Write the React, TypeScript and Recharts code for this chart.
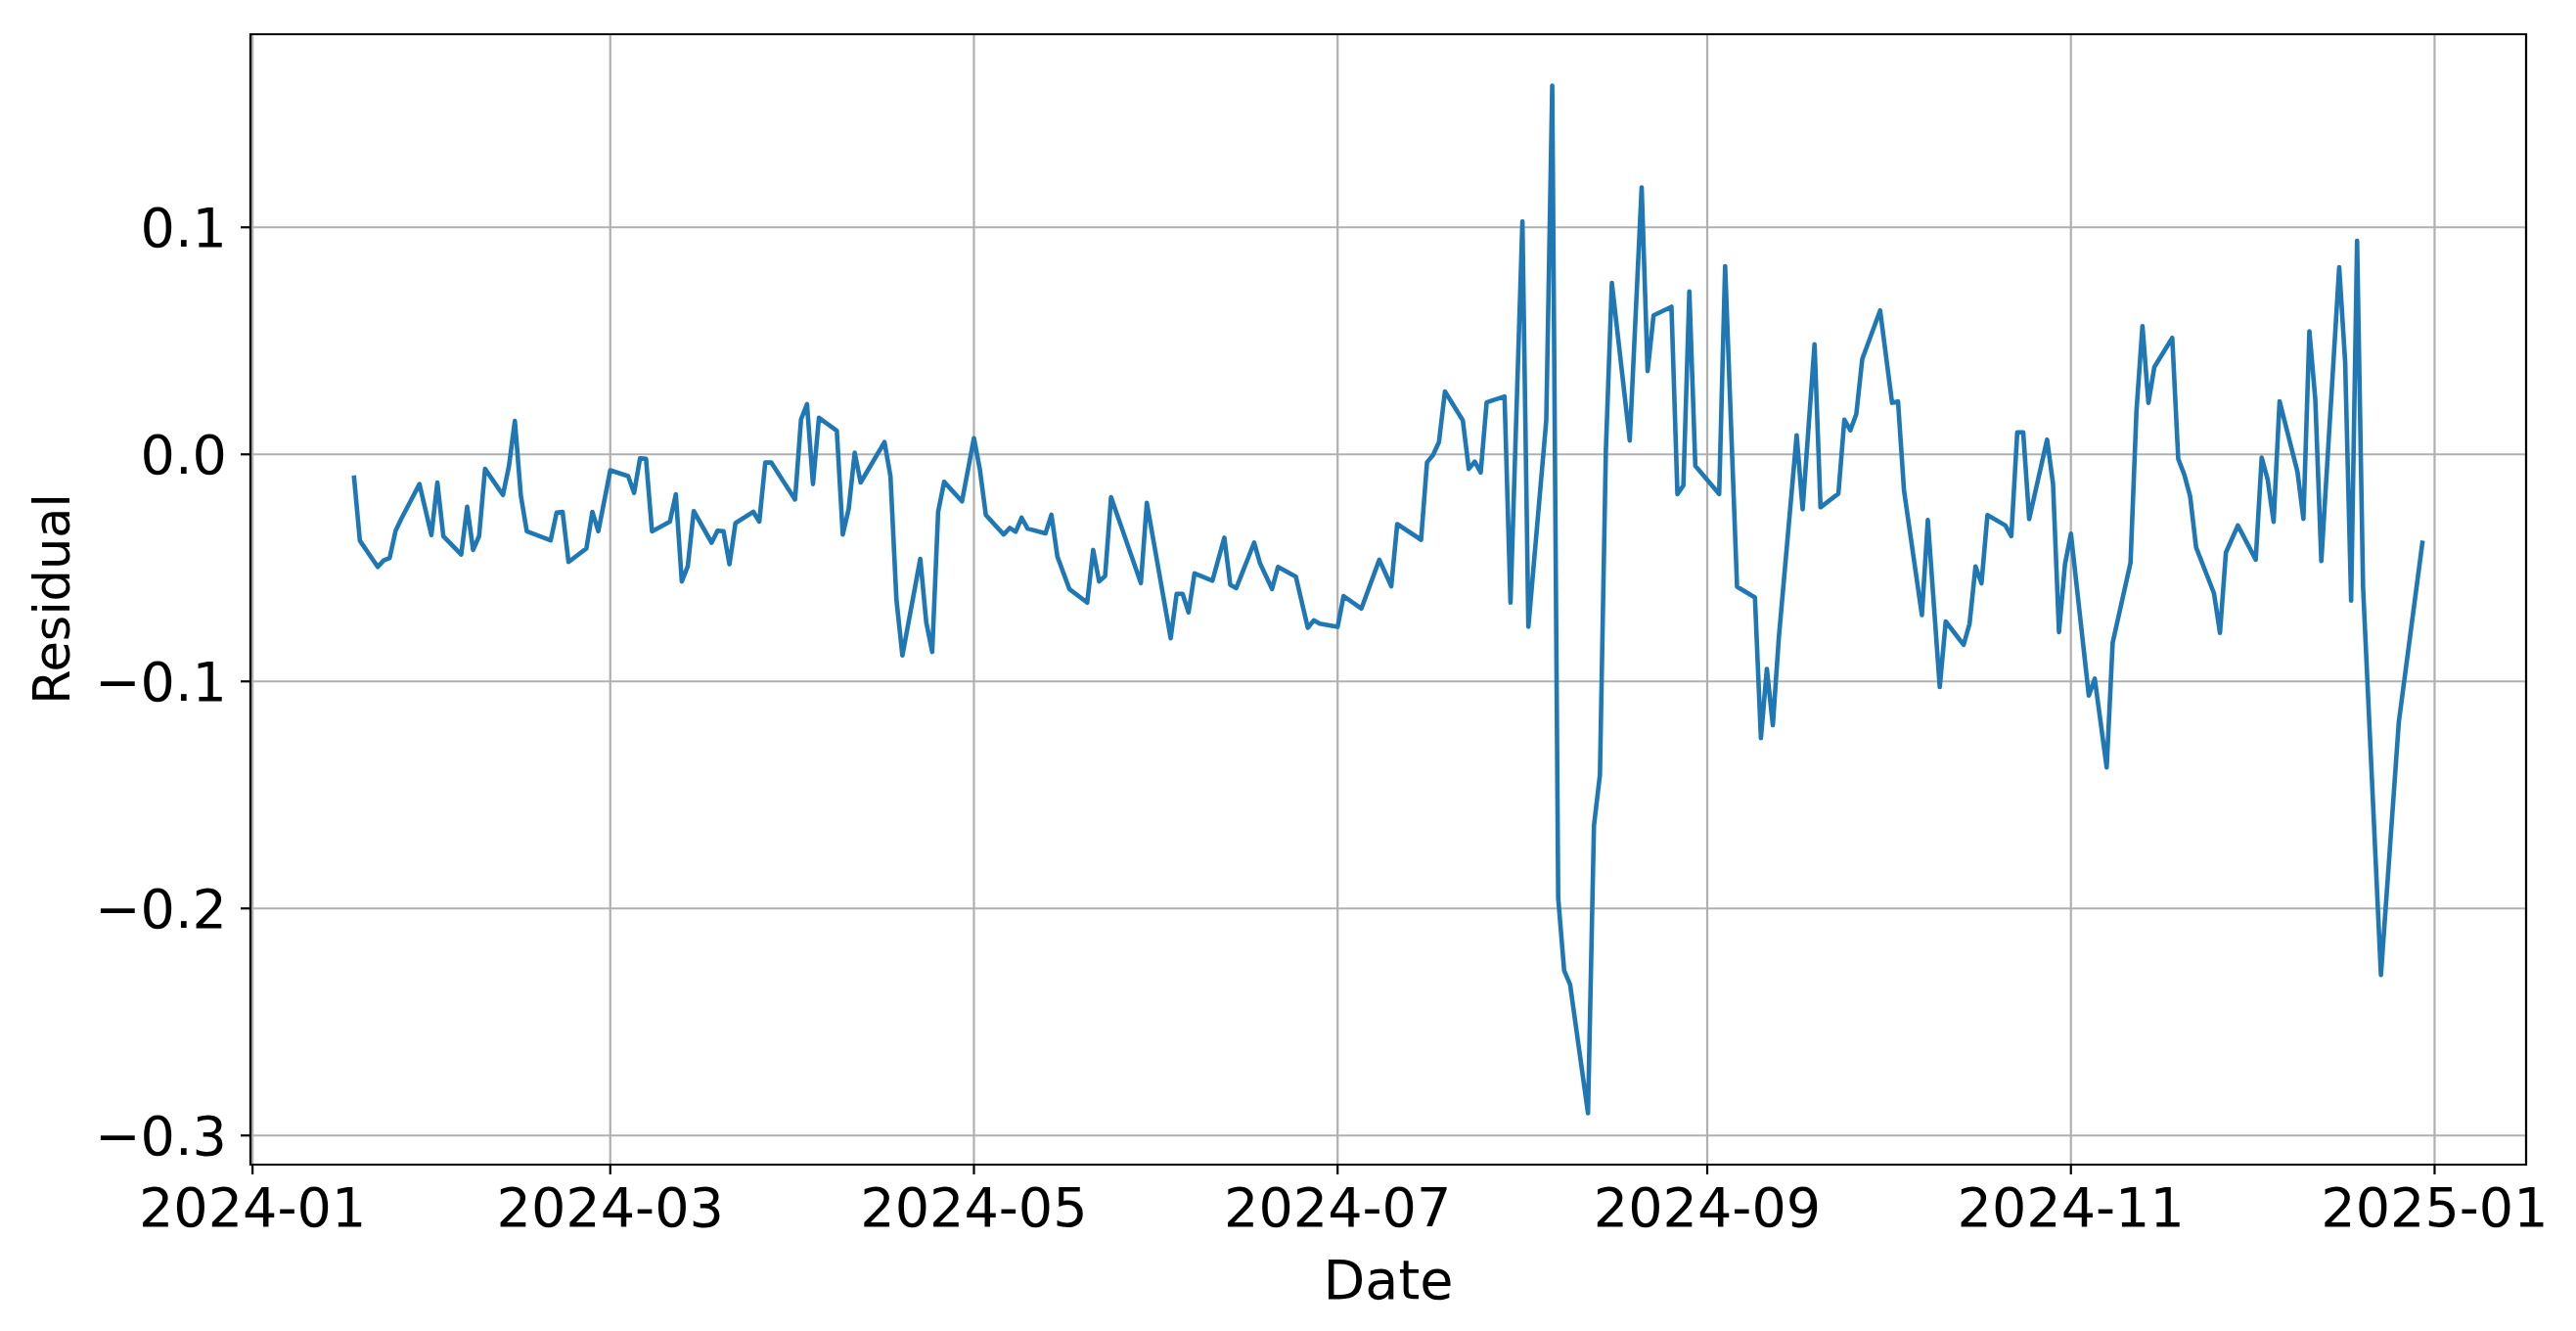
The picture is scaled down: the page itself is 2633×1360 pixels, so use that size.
import React from "react";
import {
  LineChart,
  Line,
  XAxis,
  YAxis,
  CartesianGrid,
  ReferenceArea,
  Label,
} from "recharts";

const dates: string[] = [
  "2024-01-18","2024-01-19","2024-01-22","2024-01-23","2024-01-24","2024-01-25","2024-01-26","2024-01-29","2024-01-31",
  "2024-02-01","2024-02-02","2024-02-05","2024-02-06","2024-02-07","2024-02-08","2024-02-09","2024-02-12","2024-02-13","2024-02-14","2024-02-15","2024-02-16","2024-02-20","2024-02-21","2024-02-22","2024-02-23","2024-02-26","2024-02-27","2024-02-28",
  "2024-03-01","2024-03-04","2024-03-05","2024-03-06","2024-03-07","2024-03-08","2024-03-11","2024-03-12","2024-03-13","2024-03-14","2024-03-15",
  "2024-03-18","2024-03-19","2024-03-20","2024-03-21","2024-03-22","2024-03-25","2024-03-26","2024-03-27","2024-03-28",
  "2024-04-01","2024-04-02","2024-04-03","2024-04-04","2024-04-05","2024-04-08","2024-04-09","2024-04-10","2024-04-11","2024-04-12","2024-04-16","2024-04-17","2024-04-18","2024-04-19","2024-04-22","2024-04-23","2024-04-24","2024-04-25","2024-04-26","2024-04-29",
  "2024-05-01","2024-05-02","2024-05-03","2024-05-06","2024-05-07","2024-05-08","2024-05-09","2024-05-10","2024-05-13","2024-05-14",
  "2024-05-15","2024-05-17","2024-05-20","2024-05-21","2024-05-22","2024-05-23","2024-05-24","2024-05-29","2024-05-30",
  "2024-06-03","2024-06-04","2024-06-05","2024-06-06","2024-06-07","2024-06-10","2024-06-12","2024-06-13","2024-06-14","2024-06-17","2024-06-18","2024-06-20","2024-06-21","2024-06-24","2024-06-26","2024-06-27","2024-06-28",
  "2024-07-01","2024-07-02","2024-07-05","2024-07-08","2024-07-10","2024-07-11",
  "2024-07-15","2024-07-16","2024-07-17","2024-07-18","2024-07-19","2024-07-22","2024-07-23","2024-07-24","2024-07-25","2024-07-26","2024-07-29","2024-07-30",
  "2024-08-01","2024-08-02","2024-08-05","2024-08-06","2024-08-07","2024-08-08","2024-08-09","2024-08-12","2024-08-13","2024-08-14","2024-08-15","2024-08-16","2024-08-19","2024-08-21","2024-08-22","2024-08-23","2024-08-26","2024-08-27","2024-08-28","2024-08-29","2024-08-30",
  "2024-09-03","2024-09-04","2024-09-06","2024-09-09","2024-09-10",
  "2024-09-11","2024-09-12","2024-09-13","2024-09-16","2024-09-17","2024-09-19","2024-09-20","2024-09-23","2024-09-24","2024-09-25","2024-09-26","2024-09-27","2024-09-30",
  "2024-10-02","2024-10-03","2024-10-04","2024-10-07","2024-10-08","2024-10-10","2024-10-11","2024-10-14","2024-10-15","2024-10-16","2024-10-17","2024-10-18","2024-10-21","2024-10-22","2024-10-23","2024-10-24","2024-10-25","2024-10-28","2024-10-29","2024-10-30","2024-10-31",
  "2024-11-01","2024-11-04","2024-11-05","2024-11-07","2024-11-08",
  "2024-11-11","2024-11-12","2024-11-13","2024-11-14","2024-11-15","2024-11-18","2024-11-19","2024-11-20","2024-11-21","2024-11-22","2024-11-25","2024-11-26","2024-11-27","2024-11-29",
  "2024-12-02","2024-12-03","2024-12-04","2024-12-05","2024-12-06","2024-12-09","2024-12-10","2024-12-11","2024-12-12","2024-12-13","2024-12-16","2024-12-17","2024-12-18","2024-12-19","2024-12-20","2024-12-23","2024-12-26","2024-12-30",
];

const residuals: number[] = [
  -0.0093,-0.038,-0.0496,-0.0467,-0.0456,-0.0336,-0.0281,-0.0131,-0.0356,
  -0.0124,-0.036,-0.0441,-0.0231,-0.0421,-0.036,-0.0064,-0.0179,-0.0053,0.0147,-0.0181,-0.0339,-0.0379,-0.0257,-0.0253,-0.0474,-0.0414,-0.0253,-0.0339,
  -0.007,-0.0096,-0.017,-0.0017,-0.002,-0.0339,-0.0296,-0.0176,-0.056,-0.0493,-0.025,
  -0.0389,-0.0336,-0.0339,-0.0484,-0.0303,-0.0253,-0.0296,-0.0036,-0.0036,
  -0.0199,0.0154,0.0221,-0.0131,0.0161,0.0104,-0.0353,-0.0239,0.0007,-0.0124,0.0054,-0.0096,-0.0639,-0.0886,-0.046,-0.0739,-0.087,-0.0253,-0.0121,-0.0207,
  0.0071,-0.0067,-0.0267,-0.0353,-0.0324,-0.0341,-0.0279,-0.0327,-0.0348,-0.0266,
  -0.045,-0.0593,-0.0653,-0.0421,-0.056,-0.0536,-0.0189,-0.0567,-0.0214,
  -0.081,-0.0614,-0.0614,-0.0696,-0.0524,-0.0557,-0.0367,-0.0574,-0.0589,-0.0389,-0.0481,-0.0593,-0.0496,-0.0539,-0.0764,-0.0731,-0.0746,
  -0.076,-0.0624,-0.0679,-0.0464,-0.0581,-0.0307,
  -0.0376,-0.0035,-0.0003,0.0054,0.0277,0.015,-0.0064,-0.0032,-0.008,0.0229,0.0255,-0.0653,
  0.1026,-0.0759,0.015,0.1624,-0.1954,-0.2273,-0.2336,-0.2902,-0.1635,-0.1412,0.0022,0.0755,0.0061,0.1176,0.0367,0.0612,0.065,-0.0175,-0.0137,0.0717,-0.0051,
  -0.0175,0.0829,-0.0583,-0.063,-0.125,
  -0.0945,-0.1193,-0.081,0.0084,-0.0242,0.0485,-0.0233,-0.0173,0.0153,0.0106,0.0177,0.0419,0.0634,
  0.0227,0.0233,-0.0158,-0.0708,-0.0289,-0.1025,-0.0736,-0.0839,-0.0746,-0.0494,-0.0568,-0.0267,-0.0313,-0.036,0.0097,0.0097,-0.0285,0.0065,-0.013,-0.0783,-0.0485,
  -0.0349,-0.1062,-0.0988,-0.1379,-0.083,
  -0.0477,0.0194,0.0565,0.0227,0.0385,0.0513,-0.002,-0.0088,-0.0185,-0.041,-0.0612,-0.0786,-0.0432,-0.0313,
  -0.0464,-0.0014,-0.011,-0.0297,0.0234,-0.0077,-0.0284,0.0542,0.0239,-0.047,0.0824,0.0407,-0.0644,0.0941,-0.0583,-0.2293,-0.1179,-0.038,
];

const xTickDates: string[] = ["2024-01-01","2024-03-01","2024-05-01","2024-07-01","2024-09-01","2024-11-01","2025-01-01"];
const yTicks: number[] = [-0.3, -0.2, -0.1, 0.0, 0.1];

const toMs = (d: string) => Date.parse(d + "T00:00:00Z");

const data = dates.map((d, i) => ({ t: toMs(d), r: residuals[i] }));

// matplotlib-style 5% margins
const tVals = data.map((p) => p.t);
const rVals = data.map((p) => p.r);
const tMin = Math.min(...tVals), tMax = Math.max(...tVals);
const rMin = Math.min(...rVals), rMax = Math.max(...rVals);
const xDomain: [number, number] = [tMin - 0.05 * (tMax - tMin), tMax + 0.05 * (tMax - tMin)];
const yDomain: [number, number] = [rMin - 0.05 * (rMax - rMin), rMax + 0.05 * (rMax - rMin)];

const xTicks = xTickDates.map(toMs);

const FONT = "DejaVu Sans";

const fmtX = (v: number) => {
  const d = new Date(v);
  const m = d.getUTCMonth() + 1;
  return `${d.getUTCFullYear()}-${m < 10 ? "0" + m : m}`;
};
const fmtY = (v: number) => (v < 0 ? "\u2212" + Math.abs(v).toFixed(1) : Math.abs(v).toFixed(1));

export default function App() {
  return (
    <div style={{ position: "absolute", left: 0, top: 0, width: 2633, height: 1360, background: "#fff" }}>
      <LineChart
        width={2633}
        height={1360}
        data={data}
        margin={{ top: 35, right: 51, left: 0, bottom: 0 }}
      >
        <CartesianGrid stroke="#b0b0b0" strokeWidth={2.2} />
        <XAxis
          dataKey="t"
          type="number"
          domain={xDomain}
          allowDataOverflow
          ticks={xTicks}
          interval={0}
          tickFormatter={fmtX}
          height={170}
          axisLine={false}
          tickLine={{ stroke: "#000", strokeWidth: 2.2 }}
          tickSize={10}
          tickMargin={14}
          tick={{ fill: "#000", fontSize: 55.6, fontFamily: FONT }}
        >
          <Label
            content={() => (
              <text x={1419} y={1327} textAnchor="middle" fontFamily={FONT} fontSize={55.6} fill="#000">
                Date
              </text>
            )}
          />
        </XAxis>
        <YAxis
          type="number"
          domain={yDomain}
          allowDataOverflow
          ticks={yTicks}
          interval={0}
          tickFormatter={fmtY}
          width={256}
          axisLine={false}
          tickLine={{ stroke: "#000", strokeWidth: 2.2 }}
          tickSize={10}
          tickMargin={14}
          tick={{ fill: "#000", fontSize: 55.6, fontFamily: FONT }}
        >
          <Label
            content={() => (
              <text
                x={71}
                y={612}
                transform="rotate(-90, 71, 612)"
                textAnchor="middle"
                fontFamily={FONT}
                fontSize={51}
                fill="#000"
              >
                Residual
              </text>
            )}
          />
        </YAxis>
        <Line
          type="linear"
          dataKey="r"
          stroke="#1f77b4"
          strokeWidth={4.6}
          strokeLinejoin="round"
          dot={false}
          activeDot={false}
          isAnimationActive={false}
        />
        <ReferenceArea
          x1={xDomain[0]}
          x2={xDomain[1]}
          y1={yDomain[0]}
          y2={yDomain[1]}
          fill="none"
          fillOpacity={0}
          stroke="#000"
          strokeWidth={2.2}
          ifOverflow="visible"
        />
      </LineChart>
    </div>
  );
}
